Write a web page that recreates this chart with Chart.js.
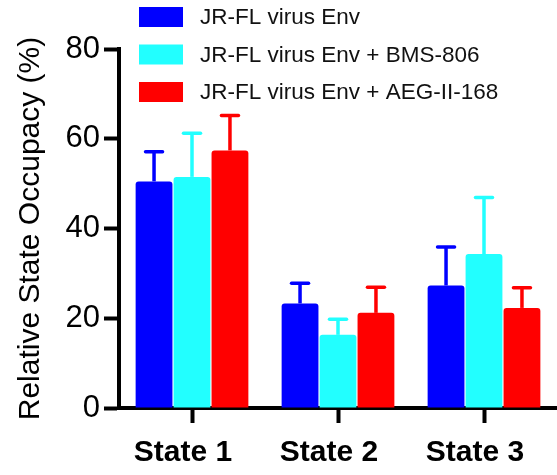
<!DOCTYPE html>
<html>
<head>
<meta charset="utf-8">
<script src="https://cdn.jsdelivr.net/npm/chart.js@4.4.1/dist/chart.umd.min.js"></script>
<style>
  html, body { margin: 0; padding: 0; background: #fff; }
  #wrap { width: 557px; height: 475px; position: relative; }
</style>
</head>
<body>
<div id="wrap"><canvas id="c" width="557" height="475"></canvas></div>
<script>
const categories = ['State 1', 'State 2', 'State 3'];
const seriesNames = ['JR-FL virus Env', 'JR-FL virus Env + BMS-806', 'JR-FL virus Env + AEG-II-168'];
const valuesEnv = [50.5, 23.3, 27.3];
const valuesBMS = [51.5, 16.3, 34.3];
const valuesAEG = [57.4, 21.2, 22.3];
const errEnv = [6.6, 4.5, 8.6];
const errBMS = [9.7, 3.5, 12.6];
const errAEG = [7.8, 5.7, 4.5];
const yTicks = [0, 20, 40, 60, 80];
const yTitle = 'Relative State Occupacy (%)';
const colors = ['#0000FF', '#22FFFF', '#FF0000'];

const seriesValues = [valuesEnv, valuesBMS, valuesAEG];
const seriesErrors = [errEnv, errBMS, errAEG];

const errorBarPlugin = {
  id: 'errorBars',
  afterDatasetsDraw(chart) {
    const ctx = chart.ctx;
    const yScale = chart.scales.y;
    chart.data.datasets.forEach((ds, i) => {
      const meta = chart.getDatasetMeta(i);
      meta.data.forEach((el, j) => {
        const v = ds.data[j];
        const e = seriesErrors[i][j];
        const yTop = yScale.getPixelForValue(v);
        const yErr = yScale.getPixelForValue(v + e);
        ctx.save();
        ctx.strokeStyle = ds.backgroundColor;
        ctx.lineWidth = 3.5;
        ctx.lineCap = 'butt';
        ctx.beginPath();
        ctx.moveTo(el.x, yTop);
        ctx.lineTo(el.x, yErr);
        ctx.stroke();
        ctx.lineCap = 'round';
        ctx.lineWidth = 3.5;
        ctx.beginPath();
        ctx.moveTo(el.x - 8.5, yErr);
        ctx.lineTo(el.x + 8.5, yErr);
        ctx.stroke();
        ctx.restore();
      });
    });
  }
};

const legendPlugin = {
  id: 'customLegend',
  afterDraw(chart) {
    const ctx = chart.ctx;
    ctx.save();
    ctx.font = '22.5px "Liberation Sans", Arial, sans-serif';
    ctx.textBaseline = 'middle';
    ctx.textAlign = 'left';
    chart.data.datasets.forEach((ds, i) => {
      const cy = 17 + i * 37.5;
      ctx.fillStyle = ds.backgroundColor;
      ctx.fillRect(139, cy - 10, 44, 20);
      ctx.fillStyle = '#111';
      ctx.fillText(ds.label, 200, cy + 1);
    });
    ctx.restore();
  }
};

new Chart(document.getElementById('c'), {
  type: 'bar',
  data: {
    labels: categories,
    datasets: seriesNames.map((name, i) => ({
      label: name,
      data: seriesValues[i],
      backgroundColor: colors[i],
      borderWidth: 0,
      borderRadius: { topLeft: 3, topRight: 3, bottomLeft: 0, bottomRight: 0 },
      borderSkipped: 'bottom',
      categoryPercentage: 0.78,
      barPercentage: 0.97
    }))
  },
  options: {
    responsive: false,
    animation: false,
    events: [],
    layout: { padding: { top: 49, left: 0, right: 0, bottom: 0 } },
    plugins: {
      legend: { display: false },
      tooltip: { enabled: false },
      title: { display: false }
    },
    scales: {
      x: {
        type: 'category',
        afterFit(scale) { scale.height = 67; },
        border: { display: true, width: 4, color: '#000' },
        grid: {
          offset: false,
          drawOnChartArea: false,
          drawTicks: true,
          tickLength: 15,
          tickWidth: 4,
          tickColor: '#000'
        },
        ticks: {
          color: '#000',
          padding: 12,
          labelOffset: -9,
          font: { family: '"Liberation Sans", Arial, sans-serif', size: 30, weight: 'bold' }
        }
      },
      y: {
        type: 'linear',
        min: 0,
        max: 80,
        afterFit(scale) { scale.width = 119; },
        afterBuildTicks(scale) { scale.ticks = yTicks.map(v => ({ value: v })); },
        border: { display: true, width: 4, color: '#000' },
        grid: {
          drawOnChartArea: false,
          drawTicks: true,
          tickLength: 15,
          tickWidth: 4,
          tickColor: '#000'
        },
        ticks: {
          color: '#000',
          padding: 4,
          font: { family: '"Liberation Sans Narrow", "Liberation Sans", Arial, sans-serif', size: 31 }
        },
        title: {
          display: true,
          text: yTitle,
          color: '#000',
          padding: { top: 13, bottom: 0 },
          font: { family: '"Liberation Sans", Arial, sans-serif', size: 30 }
        }
      }
    }
  },
  plugins: [errorBarPlugin, legendPlugin]
});
</script>
</body>
</html>
